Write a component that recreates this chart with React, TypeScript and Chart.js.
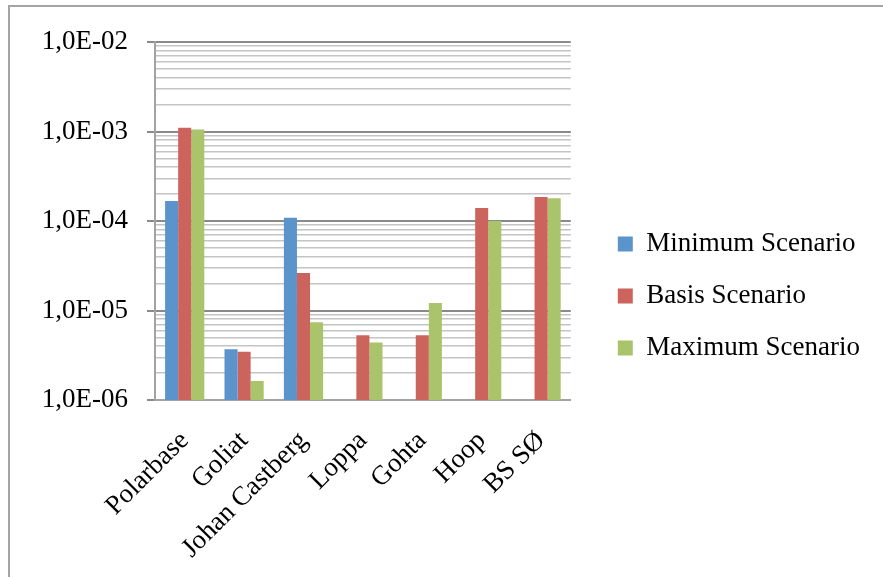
import React, { useEffect, useRef } from 'react';
import { Chart, registerables } from 'chart.js';

Chart.register(...registerables);

const categories = ['Polarbase', 'Goliat', 'Johan Castberg', 'Loppa', 'Gohta', 'Hoop', 'BS SØ'];
const seriesNames = ['Minimum Scenario', 'Basis Scenario', 'Maximum Scenario'];
const minimumScenario = [1.67e-4, 3.7e-6, 1.09e-4, null, null, null, null];
const basisScenario = [1.1e-3, 3.45e-6, 2.62e-5, 5.3e-6, 5.3e-6, 1.4e-4, 1.85e-4];
const maximumScenario = [1.05e-3, 1.63e-6, 7.4e-6, 4.4e-6, 1.21e-5, 1.0e-4, 1.8e-4];
const seriesColors = ['#5b93cb', '#cc645d', '#a9c46a'];
const decadeExponents = [-6, -5, -4, -3, -2];
const minorSignificands = [2, 3, 4, 5, 6, 7, 8, 9];

const FONT = "'Liberation Serif', 'Times New Roman', serif";

const isMajor = (v: number) => {
  const l = Math.log10(v);
  return Math.abs(l - Math.round(l)) < 1e-6;
};

const fmt = (v: number) => {
  const e = Math.round(Math.log10(v));
  const s = String(Math.abs(e)).padStart(2, '0');
  return '1,0E' + (e < 0 ? '-' : '+') + s;
};

const buildTickValues = () => {
  const vals: number[] = [];
  decadeExponents.forEach((e, i) => {
    vals.push(parseFloat('1e' + e));
    if (i < decadeExponents.length - 1) {
      minorSignificands.forEach((s) => vals.push(parseFloat(s + 'e' + e)));
    }
  });
  return vals;
};

export default function App() {
  const ref = useRef<HTMLCanvasElement | null>(null);

  useEffect(() => {
    if (!ref.current) return;
    const dataSets = [minimumScenario, basisScenario, maximumScenario];
    const chart = new Chart(ref.current, {
      type: 'bar',
      data: {
        labels: categories,
        datasets: seriesNames.map((name, i) => ({
          label: name,
          data: dataSets[i] as any,
          backgroundColor: seriesColors[i],
          borderWidth: 0,
          barPercentage: 1,
          categoryPercentage: 0.66,
        })),
      },
      options: {
        responsive: false,
        animation: false,
        layout: { padding: { top: 42, bottom: 0, left: 0, right: 13 } },
        plugins: {
          tooltip: { enabled: false },
          legend: {
            position: 'right',
            align: 'start',
            maxWidth: 400,
            title: {
              display: true,
              text: ' ',
              font: { size: 12 },
              padding: { top: 149, bottom: 0 },
            },
            labels: {
              boxWidth: 15,
              boxHeight: 15,
              padding: 25,
              color: '#000',
              font: { family: FONT, size: 27 },
            },
          },
        },
        scales: {
          x: {
            type: 'category',
            grid: { display: false },
            border: { display: true, color: '#a3a3a3', width: 2 },
            ticks: {
              color: '#000',
              font: { family: FONT, size: 27 },
              minRotation: 45,
              maxRotation: 45,
              autoSkip: false,
              padding: 17,
            },
            afterFit: (s: any) => {
              s.height = 177;
            },
          },
          y: {
            type: 'logarithmic',
            min: 1e-6,
            max: 1e-2,
            position: 'left',
            afterBuildTicks: (s: any) => {
              s.ticks = buildTickValues().map((v) => ({ value: v, major: isMajor(v) }));
            },
            afterFit: (s: any) => {
              s.width = 155;
            },
            grid: {
              drawTicks: true,
              tickLength: 8,
              color: (c: any) => (c.tick && isMajor(c.tick.value) ? '#8a8a8a' : '#c4c4c4'),
              lineWidth: (c: any) => (c.tick && isMajor(c.tick.value) ? 2 : 1.5),
              tickColor: (c: any) => (c.tick && isMajor(c.tick.value) ? '#8a8a8a' : 'rgba(0,0,0,0)'),
            },
            border: { display: true, color: '#a3a3a3', width: 2 },
            ticks: {
              autoSkip: false,
              color: '#000',
              padding: 19,
              font: { family: FONT, size: 27 },
              callback: (v: any) => (isMajor(Number(v)) ? fmt(Number(v)) : ''),
            },
          },
          yRightSpacer: {
            type: 'linear',
            position: 'right',
            display: true,
            grid: { display: false },
            border: { display: false },
            ticks: { display: false },
            afterFit: (s: any) => {
              s.width = 22;
            },
          },
        },
      } as any,
    });
    return () => chart.destroy();
  }, []);

  return (
    <div style={{ position: 'absolute', left: 0, top: 0, width: 883, height: 577, overflow: 'hidden', background: '#fff' }}>
      <div
        style={{
          position: 'absolute',
          left: 8,
          top: 5,
          width: 1000,
          height: 1000,
          border: '2px solid #a5a5a5',
          boxSizing: 'border-box',
        }}
      />
      <canvas
        ref={ref}
        width={883}
        height={577}
        style={{ position: 'absolute', left: 0, top: 0, width: 883, height: 577 }}
      />
    </div>
  );
}
